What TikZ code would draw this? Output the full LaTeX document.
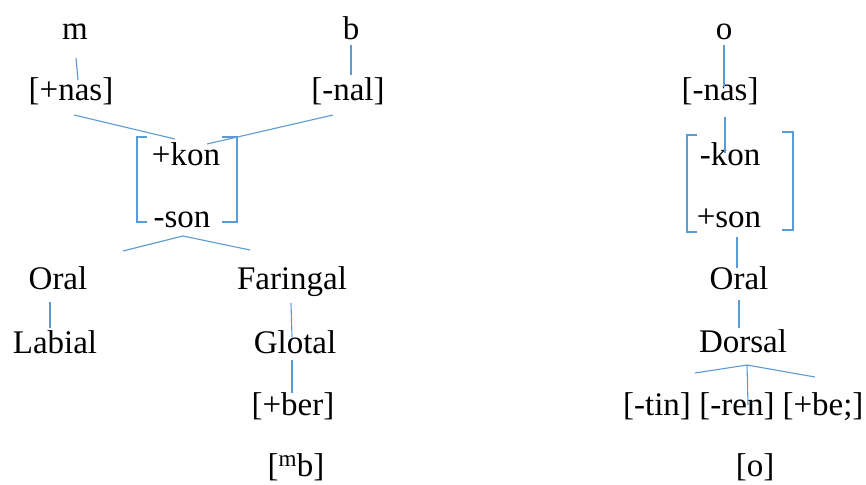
\documentclass[tikz,border=0pt]{standalone}
\usepackage{fontspec}
\setmainfont{Liberation Serif}
\newfontfamily\tnr{Liberation Serif}
\definecolor{lnblue}{HTML}{5B9BD5}
\tikzset{
  lbl/.style={inner sep=0pt, anchor=base, font=\tnr\fontsize{33}{40}\selectfont, text=black},
  ln/.style={draw=lnblue, line width=1.1pt},
}
\begin{document}
\begin{tikzpicture}[x=1pt,y=-1pt]
\useasboundingbox (0,0) rectangle (866,484);
% left tree
\node[lbl] (m) at (75,40) {m};
\node[lbl] (b) at (351,40) {b};
\node[lbl] (nas) at (71,100) {[+nas]};
\node[lbl] (nal) at (348,100) {[-nal]};
\node[lbl] (kon) at (186,165) {+kon};
\node[lbl] (son) at (182,227) {-son};
\node[lbl] (oralL) at (58,289) {Oral};
\node[lbl] (far) at (292,289) {Faringal};
\node[lbl] (lab) at (55,353) {Labial};
\node[lbl] (glo) at (295,353) {Glotal};
\node[lbl] (ber) at (293,415) {[+ber]};
\node[lbl] (mb) at (296,476) {[\textsuperscript{m}b]};
% right tree
\node[lbl] (o) at (724,40) {o};
\node[lbl] (nasR) at (720,100) {[-nas]};
\node[lbl] (konR) at (730,165) {-kon};
\node[lbl] (sonR) at (729,227) {+son};
\node[lbl] (oralR) at (739,289) {Oral};
\node[lbl] (dor) at (743,352) {Dorsal};
\node[lbl] (tin) at (657,415) {[-tin]};
\node[lbl] (ren) at (737,415) {[-ren]};
\node[lbl] (bel) at (823,415) {[+be;]};
\node[lbl] (oo) at (755,476) {[o]};
% connector ends
\coordinate (m1) at (76,58); \coordinate (m2) at (78,80);
\coordinate (b1) at (351,45); \coordinate (b2) at (351,75);
\coordinate (n1) at (74,115); \coordinate (n2) at (175,139);
\coordinate (l1) at (333,115); \coordinate (l2) at (207,144);
\coordinate (s0) at (183,236); \coordinate (s1) at (123,251);
\coordinate (s2) at (250,250);
\coordinate (o1) at (50,302); \coordinate (o2) at (50,328);
\coordinate (f1) at (291,303); \coordinate (f2) at (292,337);
\coordinate (g1) at (292,360); \coordinate (g2) at (292,393);
\coordinate (r1) at (724,45); \coordinate (r2) at (724,87);
\coordinate (r3) at (725,117); \coordinate (r4) at (725,153);
\coordinate (r5) at (737,237); \coordinate (r6) at (737,268);
\coordinate (r7) at (739,300); \coordinate (r8) at (739,328);
\coordinate (d0) at (747,365); \coordinate (d1) at (695,373);
\coordinate (d2) at (815,377); \coordinate (d3) at (748,405);
% lines
\draw[ln] (m1) -- (m2);
\draw[ln] (b1) -- (b2);
\draw[ln] (n1) -- (n2);
\draw[ln] (l1) -- (l2);
\draw[ln] (147,137) -- (137,137) -- (137,222) -- (147,222);
\draw[ln] (222,137) -- (237,137) -- (237,222) -- (222,222);
\draw[ln] (s1) -- (s0) -- (s2);
\draw[ln] (o1) -- (o2);
\draw[ln] (f1) -- (f2);
\draw[ln] (g1) -- (g2);
\draw[ln] (r1) -- (r2);
\draw[ln] (r3) -- (r4);
\draw[ln] (697,135) -- (687,135) -- (687,232) -- (697,232);
\draw[ln] (782,132) -- (793,132) -- (793,230) -- (782,230);
\draw[ln] (r5) -- (r6);
\draw[ln] (r7) -- (r8);
\draw[ln] (d1) -- (d0) -- (d2);
\draw[ln] (d0) -- (d3);
\end{tikzpicture}
\end{document}
